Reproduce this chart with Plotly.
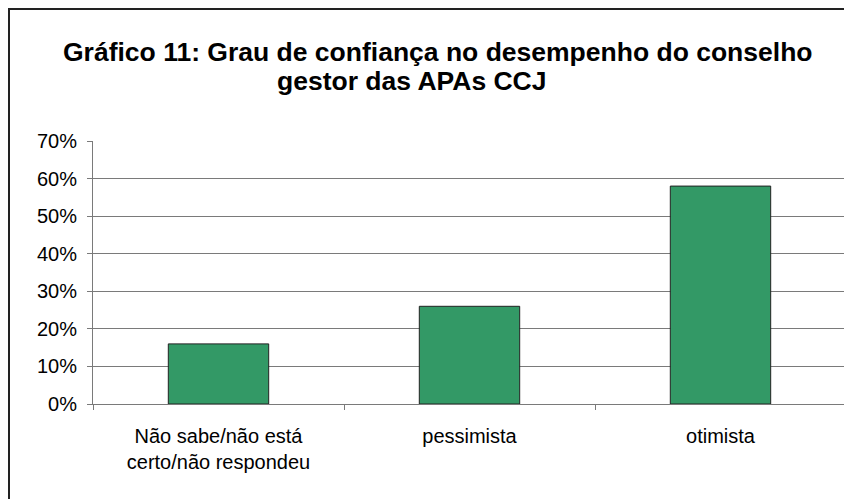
import plotly.graph_objects as go

categories = ["Não sabe/não está<br>certo/não respondeu", "pessimista", "otimista"]
values = [0.16, 0.26, 0.58]
tick_vals = [0, 0.1, 0.2, 0.3, 0.4, 0.5, 0.6, 0.7]
tick_text = ["0%", "10%", "20%", "30%", "40%", "50%", "60%", "70%"]
title_line1 = "Gráfico 11: Grau de confiança no desempenho do conselho"
title_line2 = "gestor das APAs CCJ"

# page body has an 8px margin, so the figure is shifted by OFF
OFF = 8
W, H = 852 - OFF, 499 - OFF
L, R, T, B = 93 - OFF, 846 - OFF, 141 - OFF, 404 - OFF
pw, ph = R - L, B - T

def px(x):  # screen x -> paper
    return (x - OFF - L) / pw

def py(y):  # screen y -> paper
    return (B - (y - OFF)) / ph

FONT = "Liberation Sans, Arial, sans-serif"

fig = go.Figure(go.Bar(
    x=categories, y=values,
    marker=dict(color="#339966", line=dict(color="#222222", width=1)),
    width=0.4,
))

fig.update_layout(
    width=W, height=H,
    margin=dict(l=L, r=W - R, t=T, b=H - B, pad=0),
    paper_bgcolor="white", plot_bgcolor="white",
    showlegend=False,
    font=dict(family=FONT, color="black", size=20),
)
fig.update_yaxes(
    range=[0, 0.7], tickvals=tick_vals, ticktext=tick_text,
    showgrid=True, gridcolor="#7a7a7a", gridwidth=1,
    showline=True, linecolor="#7a7a7a", linewidth=1,
    ticks="outside", ticklen=5, tickcolor="#7a7a7a",
    ticklabelstandoff=6,
    tickfont=dict(size=20, family=FONT), zeroline=False,
)
fig.update_xaxes(
    showline=True, linecolor="#7a7a7a", linewidth=1,
    ticks="outside", ticklen=5, tickcolor="#7a7a7a", tickson="boundaries",
    ticklabelstandoff=14,
    tickfont=dict(size=20, family=FONT), showgrid=False,
)

fig.add_annotation(text="<b>" + title_line1 + "</b>", xref="paper", yref="paper",
                   x=px(438), y=py(52), xanchor="center", yanchor="middle",
                   showarrow=False, font=dict(size=26.5, family=FONT, color="black"))
fig.add_annotation(text="<b>" + title_line2 + "</b>", xref="paper", yref="paper",
                   x=px(412), y=py(81), xanchor="center", yanchor="middle",
                   showarrow=False, font=dict(size=26.5, family=FONT, color="black"))

# outer chart border
fig.add_shape(type="rect", xref="paper", yref="paper",
              x0=px(9), x1=px(880), y0=py(530), y1=py(9),
              line=dict(color="#222222", width=2), fillcolor="rgba(0,0,0,0)", layer="above")
# right edge of plot area
fig.add_shape(type="line", xref="paper", yref="paper", x0=1, x1=1, y0=0, y1=1,
              line=dict(color="#c0c0c0", width=1))

fig.write_html("out.html")
